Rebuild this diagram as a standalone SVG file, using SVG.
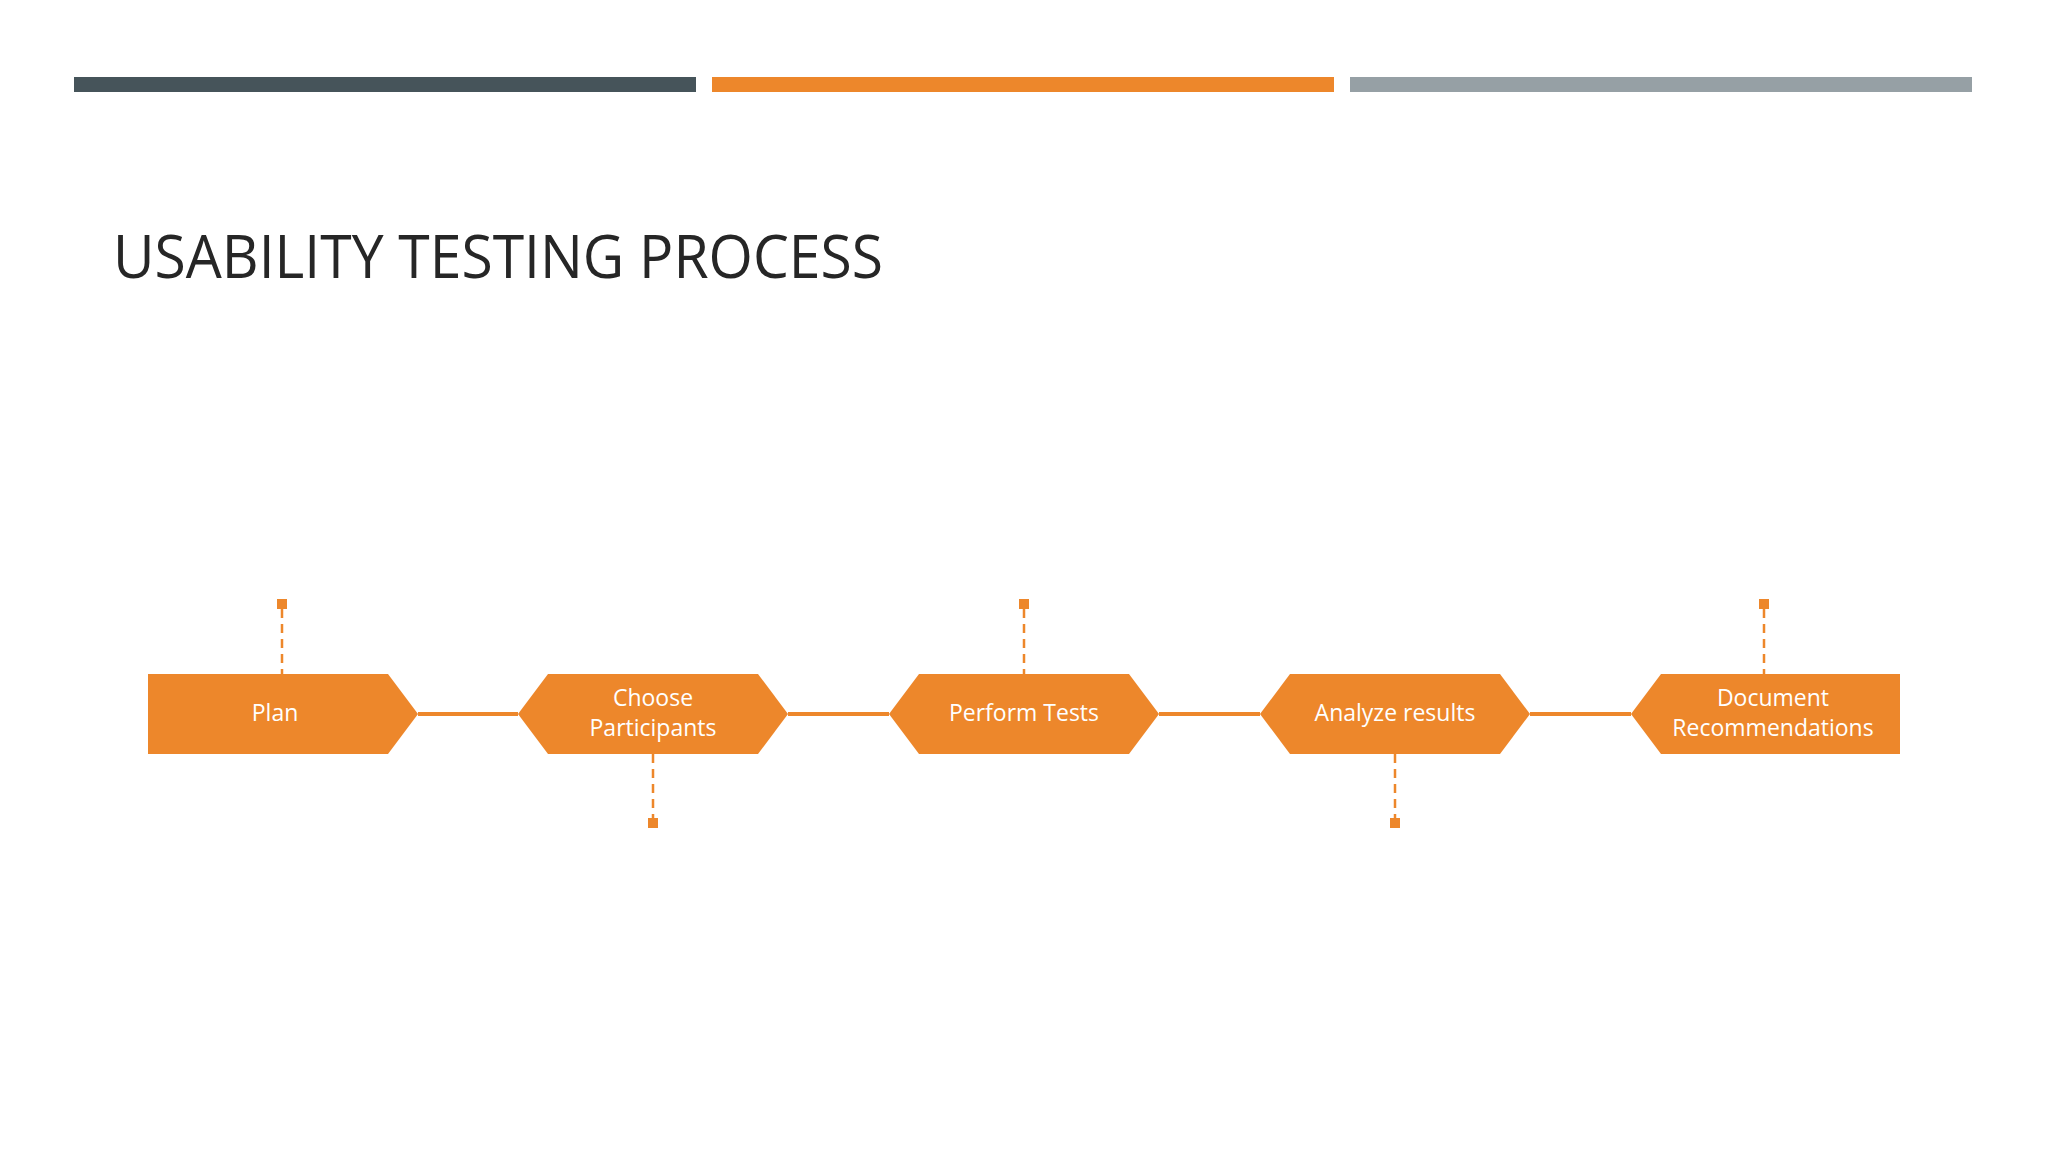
<svg xmlns="http://www.w3.org/2000/svg" width="2048" height="1152" viewBox="0 0 2048 1152">
<style>
.s{fill:#ED872B}
.t{font-family:"Open Sans",sans-serif;font-size:23px;fill:#fff;text-anchor:middle}
.d{stroke:#ED872B;stroke-width:2.5;stroke-dasharray:9 6;fill:none}
</style>
<rect width="2048" height="1152" fill="#fff"/>
<rect x="74" y="77" width="622" height="15" fill="#46545A"/>
<rect x="712" y="77" width="622" height="15" fill="#ED872B"/>
<rect x="1350" y="77" width="622" height="15" fill="#96A0A5"/>
<text x="113" y="278" font-family="'Open Sans',sans-serif" font-size="60" textLength="770" lengthAdjust="spacingAndGlyphs" fill="#262626">USABILITY TESTING PROCESS</text>
<g id="connectors">
<path d="M418 714H518M788 714H889M1159 714H1260M1530 714H1631" stroke="#ED872B" stroke-width="4"/>
<path class="d" d="M282 609V674M653 754V819M1024 609V674M1395 754V819M1764 609V674"/>
<rect class="s" x="277" y="599" width="10" height="10"/>
<rect class="s" x="648" y="818" width="10" height="10"/>
<rect class="s" x="1019" y="599" width="10" height="10"/>
<rect class="s" x="1390" y="818" width="10" height="10"/>
<rect class="s" x="1759" y="599" width="10" height="10"/>
</g>
<g id="plan"><path class="s" d="M148 674H388L418 714L388 754H148Z"/><text class="t" x="275" y="721">Plan</text></g>
<g id="choose"><path class="s" d="M548 674H758L788 714L758 754H548L518 714Z"/><text class="t" x="653" y="706">Choose</text><text class="t" x="653" y="736">Participants</text></g>
<g id="perform"><path class="s" d="M919 674H1129L1159 714L1129 754H919L889 714Z"/><text class="t" x="1024" y="721">Perform Tests</text></g>
<g id="analyze"><path class="s" d="M1290 674H1500L1530 714L1500 754H1290L1260 714Z"/><text class="t" x="1395" y="721">Analyze results</text></g>
<g id="document"><path class="s" d="M1661 674H1900V754H1661L1631 714Z"/><text class="t" x="1773" y="706">Document</text><text class="t" x="1773" y="736">Recommendations</text></g>
</svg>
